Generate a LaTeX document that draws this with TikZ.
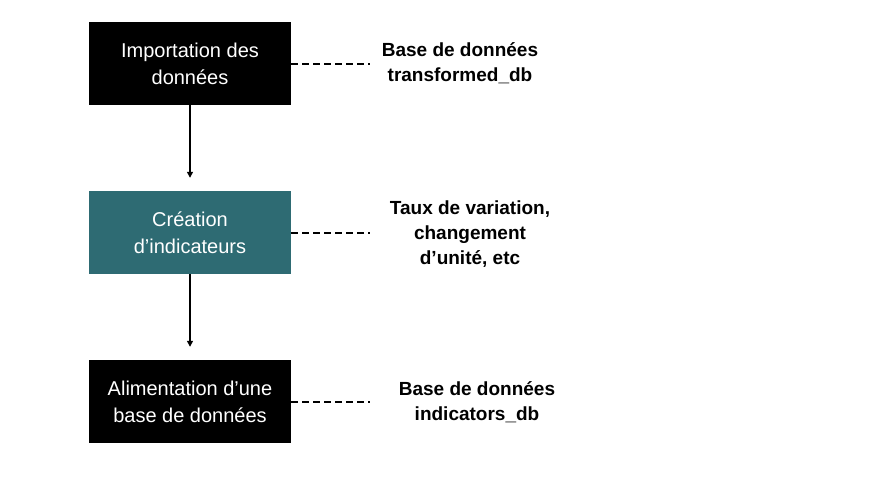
\documentclass[tikz,border=0pt]{standalone}
\usepackage{fontspec}
\setmainfont{Liberation Sans}
\usetikzlibrary{arrows.meta}
\definecolor{tealbox}{RGB}{46,107,115}

\begin{document}
\begin{tikzpicture}[x=1pt,y=-1pt,
		stepbox/.style={minimum width=202pt,minimum height=83pt,inner sep=0pt,
			text=white,align=center,font=\fontsize{20}{27}\selectfont},
		note/.style={align=center,font=\fontsize{19}{25}\selectfont\bfseries},
		link/.style={line width=1.8pt,dash pattern=on 7pt off 4pt},
		flow/.style={line width=1.3pt,-{Triangle[length=6pt,width=6pt]},shorten >=13pt}]
	\useasboundingbox (0,0) rectangle (888,486);
	% boxes
	\node [stepbox,fill=black] (import) at (190,63.5) {Importation des\\donn\'ees};
	\node [stepbox,fill=tealbox] (indic) at (190,232.5) {Cr\'eation\\d’indicateurs};
	\node [stepbox,fill=black] (alim) at (190,401.5) {Alimentation d’une\\base de donn\'ees};
	% notes
	\node [note] (transf) at (460,63) {Base de donn\'ees\\transformed\_db};
	\node [note] (taux) at (470,234) {Taux de variation,\\changement\\d’unit\'e, etc};
	\node [note] (indicdb) at (477,402) {Base de donn\'ees\\indicators\_db};
	\coordinate (e1) at (370,64);
	\coordinate (e2) at (370,233);
	\coordinate (e3) at (370,402);
	% links
	\draw [link] (import.east |- e1) -- (e1);
	\draw [link] (indic.east |- e2) -- (e2);
	\draw [link] (alim.east |- e3) -- (e3);
	\draw [flow] (import.south) -- (indic.north);
	\draw [flow] (indic.south) -- (alim.north);
\end{tikzpicture}
\end{document}
